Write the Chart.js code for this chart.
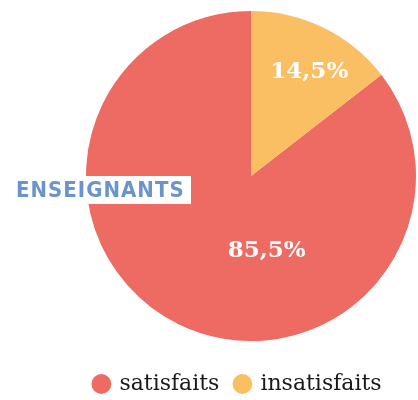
<!DOCTYPE html>
<html>
<head>
<meta charset="utf-8">
<script src="https://cdn.jsdelivr.net/npm/chart.js@4"></script>
<style>
  html, body { margin: 0; padding: 0; background: #fff; }
  #wrap { width: 418px; height: 400px; }
</style>
</head>
<body>
<div id="wrap"><canvas id="pieChart"></canvas></div>
<script>
const categories = ['satisfaits', 'insatisfaits'];
const values = [85.5, 14.5];
const valueLabels = ['85,5%', '14,5%'];
const groupLabel = 'ENSEIGNANTS';

// draw the percentages and the group tag on top of the pie
const overlay = {
    id: 'overlay',
    afterLayout(chart) {
        // legend sits a bit left of centre and low in the original
        const lg = chart.legend;
        lg.left -= 13; lg.right -= 13;
        lg.top += 5; lg.bottom += 5;
    },
    afterDatasetsDraw(chart) {
        const c = chart.ctx;
        const meta = chart.getDatasetMeta(0);
        const shifts = [[52, 1], [22, -30]]; // nudges from the library's label spot
        c.save();
        c.fillStyle = '#ffffff';
        c.font = 'bold 23px "DejaVu Serif"';
        c.textAlign = 'center';
        c.textBaseline = 'middle';
        meta.data.forEach((arc, i) => {
            const p = arc.tooltipPosition();
            c.fillText(valueLabels[i], p.x + shifts[i][0], p.y + shifts[i][1]);
        });

        // white tag with blue text
        const cy = meta.data[0].y + 14;
        c.fillStyle = '#ffffff';
        c.fillRect(0, cy - 14, 191, 28);
        c.fillStyle = '#6b94cd';
        c.font = 'bold 22px "DejaVu Sans Condensed"';
        c.letterSpacing = '1px';
        c.textAlign = 'left';
        c.fillText(groupLabel, 16, cy + 1);
        c.restore();
    }
};

const ctx = document.getElementById('pieChart').getContext('2d');
const pieChart = new Chart(ctx, {
    type: 'pie',
    data: {
        labels: categories,
        datasets: [{
            data: values,
            backgroundColor: ['#ee6b63', '#fbbf63'],
            borderWidth: 0
        }]
    },
    options: {
        responsive: true,
        maintainAspectRatio: false,
        animation: false,
        rotation: values[1] * 3.6,
        layout: {
            padding: { left: 86, right: 2, top: 0, bottom: 0 }
        },
        plugins: {
            legend: {
                position: 'bottom',
                labels: {
                    usePointStyle: true,
                    pointStyle: 'circle',
                    boxWidth: 14,
                    boxHeight: 14,
                    padding: 16,
                    color: '#1a1a1a',
                    font: { family: '"DejaVu Serif"', size: 22 }
                }
            },
            tooltip: { enabled: false }
        }
    },
    plugins: [overlay]
});
</script>
</body>
</html>
